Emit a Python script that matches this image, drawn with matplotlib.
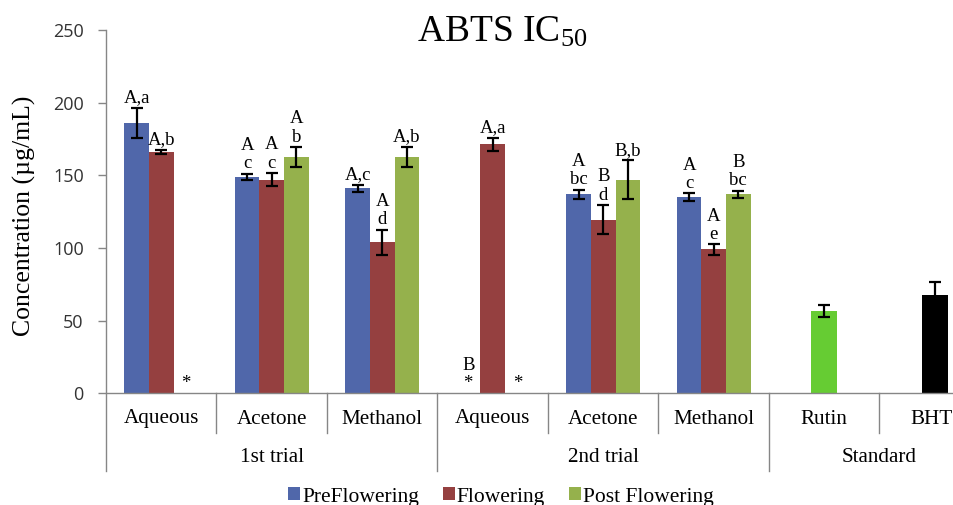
import matplotlib
matplotlib.use("Agg")
import matplotlib.pyplot as plt
from matplotlib.patches import Patch
import numpy as np

plt.rcParams['mathtext.fontset'] = 'custom'
plt.rcParams['mathtext.rm'] = 'Liberation Serif'
plt.rcParams['mathtext.it'] = 'Liberation Serif:italic'

SERIF = 'Liberation Serif'

# ---- data ----
categories = ["Aqueous", "Acetone", "Methanol", "Aqueous", "Acetone", "Methanol"]
groups = ["1st trial", "2nd trial", "Standard"]
series_names = ["PreFlowering", "Flowering", "Post Flowering"]
pre = [186, 149, 141, 0, 137, 135]
flow = [166, 147, 104, 171.5, 119.5, 99]
post = [0, 162.5, 162.5, 0, 147, 137]
pre_err = [10.5, 2, 2.5, 0, 3, 2.5]
flow_err = [1.5, 4.5, 8.5, 4.5, 10, 3.5]
post_err = [0, 7, 7, 0, 13.5, 2.5]
pre_lbl = ["A,a", "A\nc", "A,c", "B\n*", "A\nbc", "A\nc"]
flow_lbl = ["A,b", "A\nc", "A\nd", "A,a", "B\nd", "A\ne"]
post_lbl = ["*", "A\nb", "A,b", "*", "B,b", "B\nbc"]
std_names = ["Rutin", "BHT"]
std_vals = [56.5, 67.5]
std_err = [4, 9]
yticks = [0, 50, 100, 150, 200, 250]

colors = ["#5067AA", "#954040", "#95B14C"]
std_colors = ["#66CC33", "#000000"]

fig = plt.figure(figsize=(9.54, 5.05), dpi=100)
W, H = 954, 505
x0, y0 = 106, 393.3
ax = fig.add_axes([x0 / W, (H - y0) / H, 884 / W, 363.3 / H])

bw = 0.222
xs = np.arange(len(categories))
series = [(pre, pre_err, pre_lbl), (flow, flow_err, flow_lbl), (post, post_err, post_lbl)]
for i, (vals, errs, lbls) in enumerate(series):
    xi = xs + (i - 1) * bw
    ax.bar(xi, vals, width=bw, color=colors[i], edgecolor='none', zorder=2)
    for x, v, e, l in zip(xi, vals, errs, lbls):
        if e > 0:
            ax.errorbar(x, v, yerr=e, fmt='none', ecolor='black', elinewidth=1.6,
                        capsize=4.5, capthick=1.6, zorder=3)
        ax.annotate(l, (x, v + e), xytext=(0, 1), textcoords='offset points',
                    ha='center', va='bottom', fontsize=13.5, family=SERIF,
                    linespacing=1.1, zorder=4)

xstd = np.arange(len(categories), len(categories) + len(std_names))
ax.bar(xstd, std_vals, width=0.235, color=std_colors, edgecolor='none', zorder=2)
ax.errorbar(xstd, std_vals, yerr=std_err, fmt='none', ecolor='black', elinewidth=1.6,
            capsize=4.5, capthick=1.6, zorder=3)

ax.set_xlim(-0.5, 7.5)
ax.set_ylim(0, 250)
for s in ['top', 'right', 'left', 'bottom']:
    ax.spines[s].set_visible(False)
ax.set_xticks([])
ax.set_yticks(yticks)
ax.tick_params(axis='y', length=6, width=1, color='#868686', pad=10,
               labelsize=13, labelcolor='#333333')
for t in ax.get_yticklabels():
    t.set_fontfamily('Open Sans')

gray = '#868686'
trans = ax.get_xaxis_transform()
short = -(432.7 - y0) / 363.3
long_ = -(471 - y0) / 363.3
# baseline
ax.plot([-0.5, 7.5], [0, 0], transform=trans, color=gray, lw=1, clip_on=False, zorder=5)
# left axis line
ax.plot([-0.5, -0.5], [long_, 1], transform=trans, color=gray, lw=1, clip_on=False, zorder=5)
for b in range(1, 9):
    yb = long_ if b in (3, 6) else short
    ax.plot([b - 0.5, b - 0.5], [0, yb], transform=trans, color=gray, lw=1, clip_on=False)

all_cats = categories + std_names
lab_y = -(419 - y0) / 363.3
for i, c in enumerate(all_cats):
    xc = i if c != "BHT" else i - 0.03
    ax.text(xc, lab_y, c, transform=trans, ha='center', va='center', fontsize=15.2,
            family=SERIF, color='black')
grp_y = -(457 - y0) / 363.3
for gx, g in zip([1, 4, 6.5], groups):
    ax.text(gx, grp_y, g, transform=trans, ha='center', va='center', fontsize=15.2,
            family=SERIF, color='black')

fig.text(24 / W, 1 - 216 / H, "Concentration (µg/mL)", rotation=90, ha='center',
         va='center', fontsize=18.5, family=SERIF)
fig.text(502 / W, 1 - 42 / H, r"ABTS IC$_{50}$", ha='center', va='baseline',
         fontsize=27, family=SERIF)

handles = [Patch(facecolor=c, edgecolor='none') for c in colors]
leg = fig.legend(handles, series_names, loc='center', bbox_to_anchor=(501 / W, 1 - 497 / H),
                 ncol=3, frameon=False, prop={'family': SERIF, 'size': 15.5},
                 handlelength=0.55, handleheight=0.55, handletextpad=0.1,
                 columnspacing=1.1, borderpad=0, borderaxespad=0)

fig.savefig("out.png", dpi=100)
